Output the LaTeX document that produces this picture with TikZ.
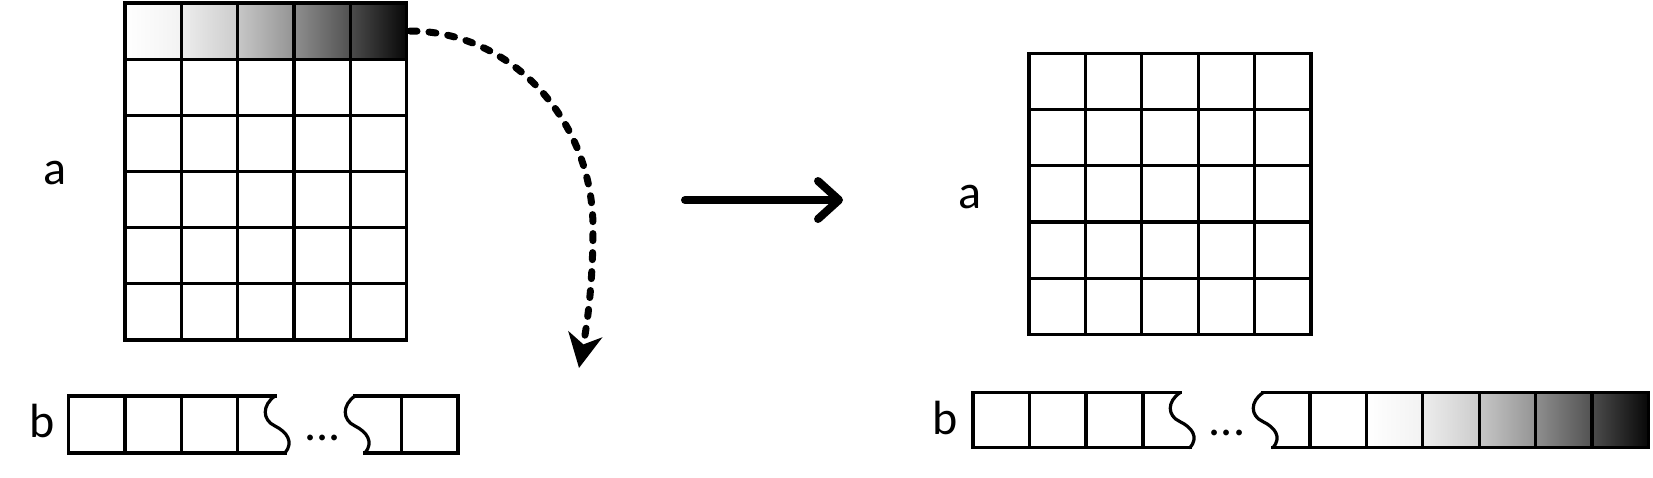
\documentclass[tikz,border=0pt]{standalone}
\usepackage{fontspec}
\setmainfont{Carlito}
\usetikzlibrary{arrows.meta}
\tikzset{
  gridline/.style={line width=1.6pt, line cap=rect, line join=miter},
  wavyline/.style={line width=1.6pt, line cap=round, line join=round},
  lbl/.style={font=\fontsize{24}{28}\selectfont, inner sep=0pt},
  dashedarrow/.style={line width=3.5pt, dash pattern=on 3.5pt off 6pt, line cap=round,
    -{Stealth[length=17pt,width=17pt,inset=5pt]}},
  bigarrow/.style={line width=4pt, line cap=round,
    -{Straight Barb[length=10.5pt,width=19pt,line cap=round,line join=round]}},
  wavy/.pic={\draw[wavyline] (0,0) .. controls (-13,9) and (-13,24) .. (0,30)
     .. controls (12,36) and (19,46) .. (10,57);}
}
\begin{document}
\begin{tikzpicture}[x=0.5pt,y=-0.5pt]
\useasboundingbox (0,0) rectangle (1653,477);

% ---------- left matrix a (5 x 6) ----------
\foreach \i/\cl/\cr in {0/white/black!5, 1/black!7/black!20, 2/black!22/black!42, 3/black!44/black!68, 4/black!70/black!97}
  \shade[left color=\cl, right color=\cr] ({125+56.3*\i},3) rectangle ({125+56.3*(\i+1)},59.15);
\foreach \i in {0,...,5}
  \draw[gridline] ({125+56.3*\i},3) -- ({125+56.3*\i},339.9);
\foreach \j in {0,...,6}
  \draw[gridline] (125,{3+56.15*\j}) -- (406.5,{3+56.15*\j});

% ---------- left array b ----------
\draw[gridline] (275,396) -- (68.5,396) -- (68.5,453) -- (285,453);
\foreach \x in {125,181.5,237.5}
  \draw[gridline] (\x,396) -- (\x,453);
\pic at (275,396) {wavy};
\draw[gridline] (355,396) -- (458,396) -- (458,453) -- (365,453);
\draw[gridline] (401.7,396) -- (401.7,453);
\pic at (355,396) {wavy};

% ---------- labels ----------
\node[lbl] (aL) at (55,173) {a};
\node[lbl] (bL) at (42.5,421) {b};
\node[lbl] (aR) at (970,197) {a};
\node[lbl] (bR) at (945,418) {b};
\node[lbl, anchor=base] (dotsL) at (322.5,440) {...};
\node[lbl, anchor=base] (dotsR) at (1227,435) {...};

% ---------- dashed curved arrow ----------
\coordinate (arcstart) at (410,31);
\coordinate (arcmid) at (593,228);
\coordinate (arcend) at (579,368);
\draw[dashedarrow] (arcstart) .. controls (510,31) and (593,119) .. (arcmid)
   .. controls (593,285) and (587,325) .. (arcend);

% ---------- big arrow ----------
\coordinate (harrowstart) at (685,200);
\coordinate (harrowend) at (843,200);
\draw[bigarrow] (harrowstart) -- (harrowend);

% ---------- right matrix a (5 x 5) ----------
\foreach \i in {0,...,5}
  \draw[gridline] ({1029+56.4*\i},53.3) -- ({1029+56.4*\i},334.3);
\foreach \j in {0,...,5}
  \draw[gridline] (1029,{53.3+56.2*\j}) -- (1311,{53.3+56.2*\j});

% ---------- right array b ----------
\draw[gridline] (1180,392.7) -- (973,392.7) -- (973,447.7) -- (1190,447.7);
\foreach \x in {1029.5,1086,1143}
  \draw[gridline] (\x,392.7) -- (\x,447.7);
\pic[yscale=0.965] at (1180,392.7) {wavy};
\foreach \i/\cl/\cr in {1/white/black!5, 2/black!7/black!20, 3/black!22/black!42, 4/black!44/black!68, 5/black!70/black!97}
  \shade[left color=\cl, right color=\cr] ({1310+56.4*\i},392.7) rectangle ({1310+56.4*(\i+1)},447.7);
\draw[gridline] (1263,392.7) -- (1648.4,392.7) -- (1648.4,447.7) -- (1273,447.7);
\foreach \i in {0,...,5}
  \draw[gridline] ({1310+56.4*\i},392.7) -- ({1310+56.4*\i},447.7);
\pic[yscale=0.965] at (1263,392.7) {wavy};
\end{tikzpicture}
\end{document}
